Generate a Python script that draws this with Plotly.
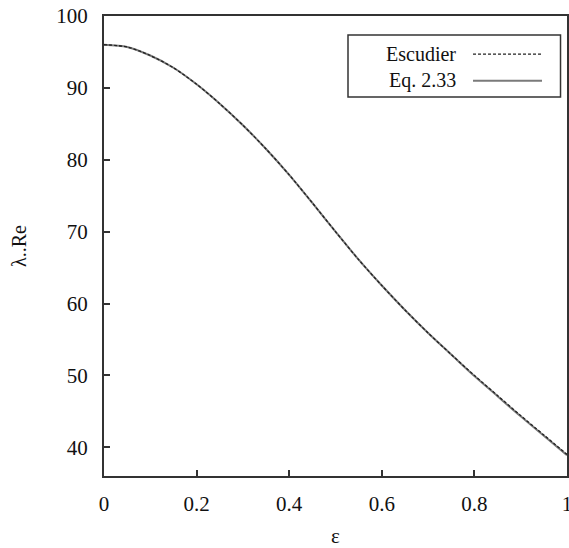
import plotly.graph_objects as go

# Data
eps = [0.0, 0.05, 0.1, 0.15, 0.2, 0.25, 0.3, 0.35, 0.4, 0.45, 0.5,
       0.55, 0.6, 0.65, 0.7, 0.75, 0.8, 0.85, 0.9, 0.95, 1.0]
escudier = [96.0, 95.7, 94.5, 92.8, 90.5, 87.8, 84.8, 81.5, 77.9, 74.0, 70.0,
            66.1, 62.5, 59.1, 55.9, 52.9, 50.0, 47.2, 44.4, 41.7, 39.0]
eq233 = [96.0, 95.7, 94.5, 92.8, 90.5, 87.8, 84.8, 81.5, 77.9, 74.0, 70.0,
         66.1, 62.5, 59.1, 55.9, 52.9, 49.9, 47.1, 44.3, 41.6, 38.9]
x_ticks = [0, 0.2, 0.4, 0.6, 0.8, 1.0]
x_tick_labels = ["0", "0.2", "0.4", "0.6", "0.8", "1"]
y_ticks = [40, 50, 60, 70, 80, 90, 100]
series_names = ["Escudier", "Eq. 2.33"]

FONT = "Liberation Serif, Times New Roman, serif"
AX = "#333333"

fig = go.Figure()
fig.add_trace(go.Scatter(x=eps, y=eq233, mode="lines", name=series_names[1],
                         line=dict(color="#7a7a7a", width=2, shape="spline", smoothing=0.8)))
fig.add_trace(go.Scatter(x=eps, y=escudier, mode="lines", name=series_names[0],
                         line=dict(color="#222222", width=1.3, dash="3px,2px",
                                   shape="spline", smoothing=0.8)))

axis_common = dict(showline=True, linecolor=AX, linewidth=2, mirror=True,
                   ticks="inside", ticklen=6, tickwidth=1.5, tickcolor=AX,
                   showgrid=False, zeroline=False, ticklabeloverflow="allow",
                   automargin=False,
                   tickfont=dict(family=FONT, size=21, color="#111111"))

fig.update_xaxes(range=[0, 1], tickvals=x_ticks, ticktext=x_tick_labels,
                 ticklabelstandoff=8,
                 title=dict(text="ε", font=dict(family=FONT, size=21, color="#111111"),
                            standoff=14),
                 **axis_common)
fig.update_yaxes(range=[36, 100], tickvals=y_ticks, ticklabelstandoff=10,
                 title=dict(text="λ..Re", font=dict(family=FONT, size=20, color="#111111"),
                            standoff=24),
                 **axis_common)

# Legend drawn manually (text left of sample, as in the reference)
shapes = [
    dict(type="rect", xref="paper", yref="paper", x0=0.527, x1=0.986, y0=0.824, y1=0.9587,
         line=dict(color=AX, width=1.5), fillcolor="white", layer="above"),
    dict(type="line", xref="paper", yref="paper", x0=0.797, x1=0.946, y0=0.917, y1=0.917,
         line=dict(color="#222222", width=1.3, dash="3px,2px"), layer="above"),
    dict(type="line", xref="paper", yref="paper", x0=0.797, x1=0.946, y0=0.859, y1=0.859,
         line=dict(color="#7a7a7a", width=2), layer="above"),
]
annotations = [
    dict(xref="paper", yref="paper", x=0.7646, y=0.917, xanchor="right", yanchor="middle",
         text=series_names[0], showarrow=False, font=dict(family=FONT, size=20, color="#111111")),
    dict(xref="paper", yref="paper", x=0.7646, y=0.859, xanchor="right", yanchor="middle",
         text=series_names[1], showarrow=False, font=dict(family=FONT, size=20, color="#111111")),
]

fig.update_layout(width=569, height=548, showlegend=False,
                  margin=dict(l=104, r=2, t=16, b=72),
                  plot_bgcolor="white", paper_bgcolor="white",
                  shapes=shapes, annotations=annotations)

# Remove the default page margin so the figure fills the 569x548 window exactly.
fig.write_html("out.html", config={"displayModeBar": False},
               post_script="document.body.style.margin='0';document.body.style.overflow='hidden';")
